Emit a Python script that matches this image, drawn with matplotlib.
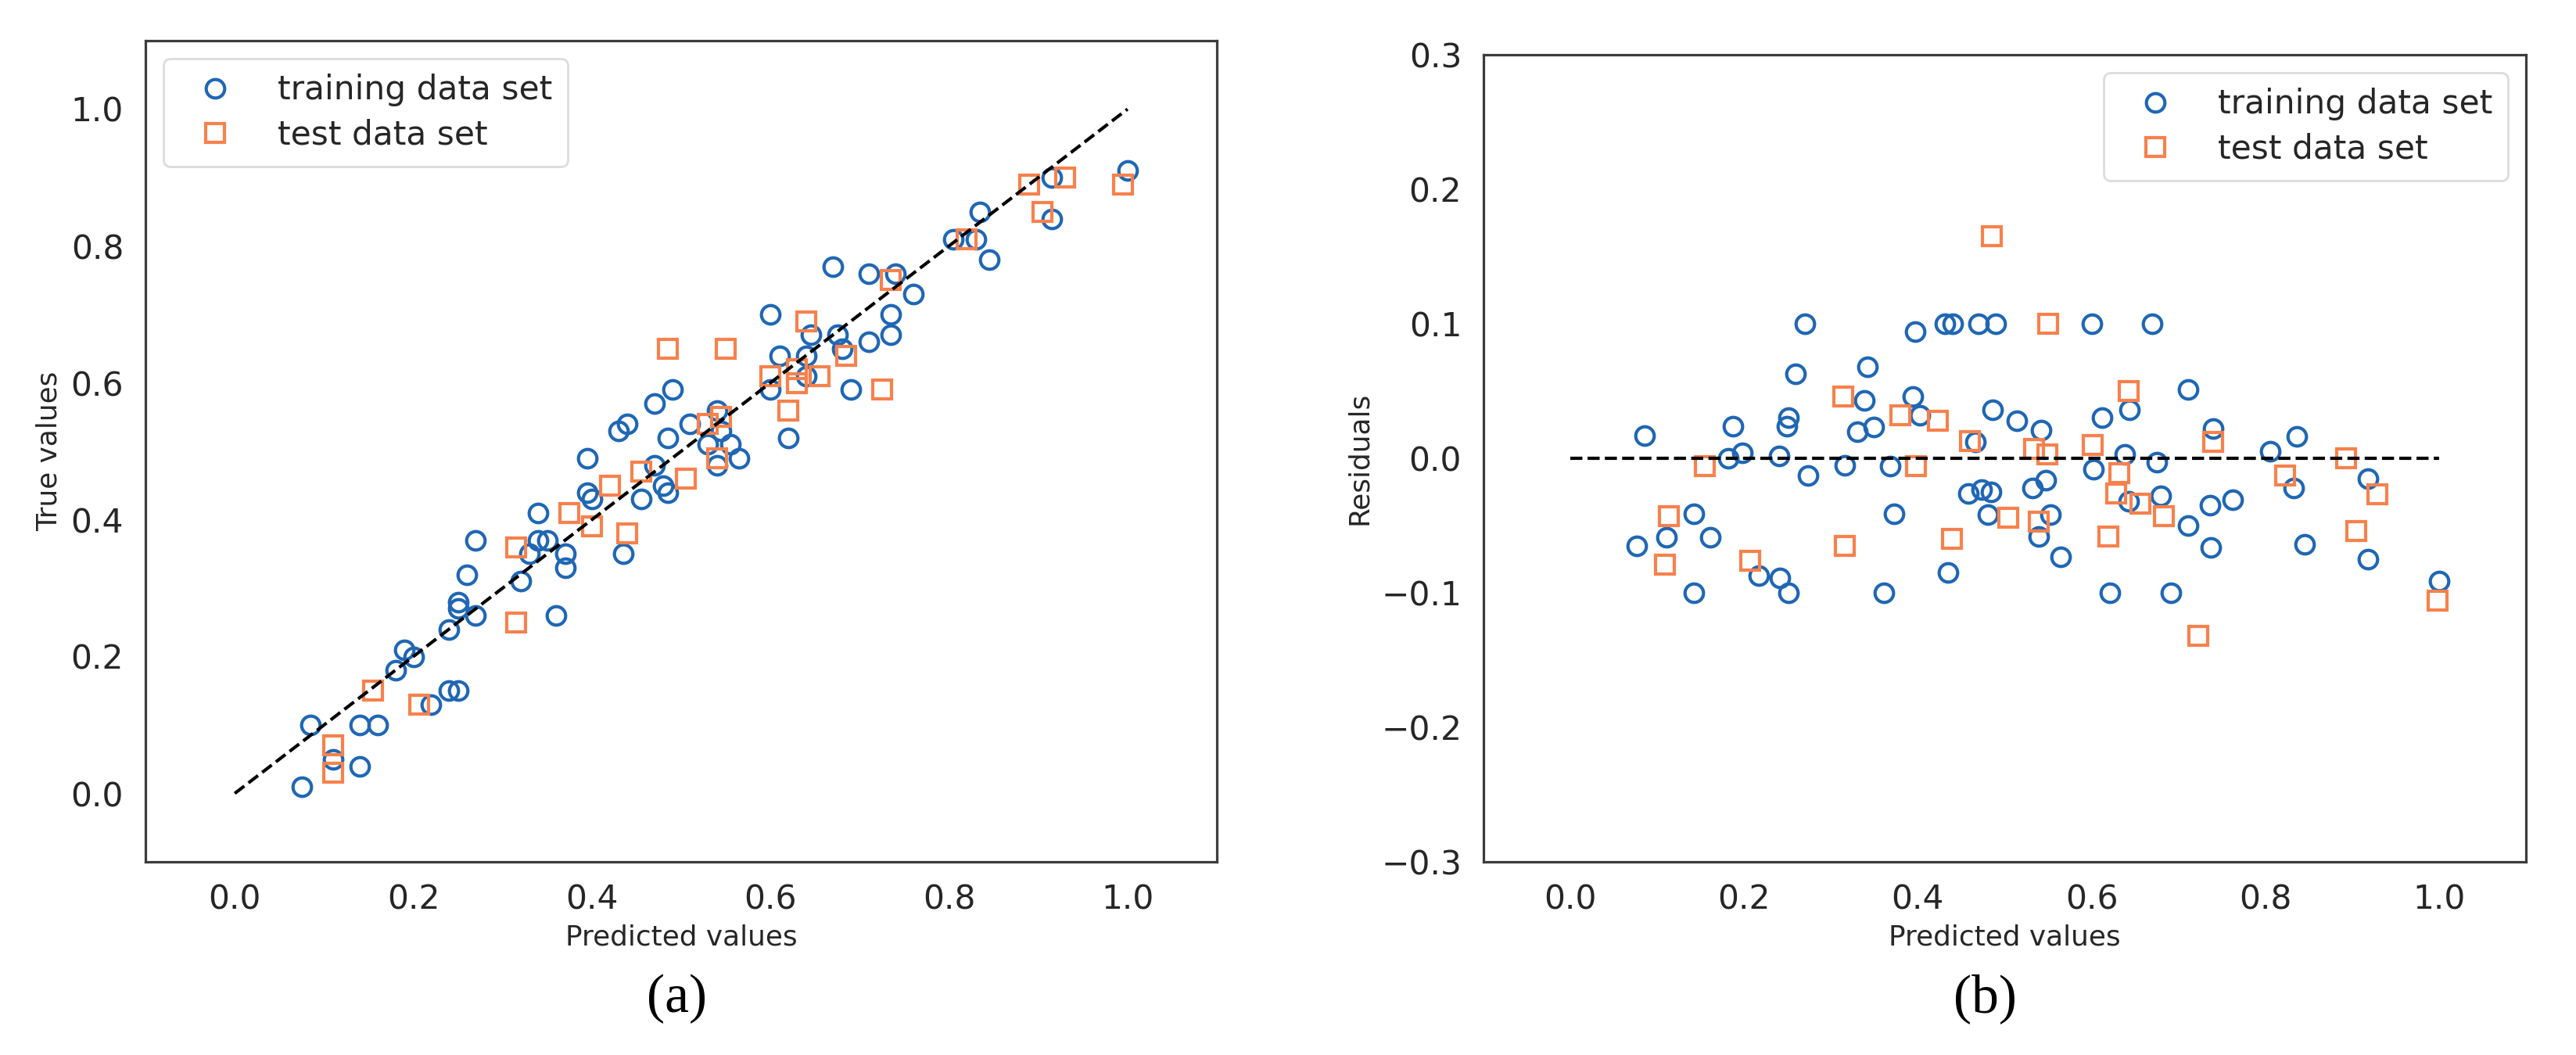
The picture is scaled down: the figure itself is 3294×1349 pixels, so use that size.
import matplotlib
matplotlib.use("Agg")
import matplotlib.pyplot as plt

# ---------------- data ----------------
train_pred = [0.075, 0.085, 0.11, 0.14, 0.14, 0.16, 0.18, 0.19, 0.20, 0.22, 0.24, 0.25,
              0.24, 0.25, 0.25, 0.26, 0.27, 0.27, 0.32, 0.33, 0.34, 0.35, 0.34, 0.36,
              0.37, 0.37, 0.395, 0.40, 0.395, 0.435, 0.43, 0.44, 0.455, 0.47, 0.48, 0.485,
              0.47, 0.485, 0.49, 0.51, 0.53, 0.54, 0.54, 0.545, 0.555, 0.565, 0.60, 0.62,
              0.64, 0.61, 0.64, 0.60, 0.645, 0.675, 0.68, 0.69, 0.67, 0.71, 0.74, 0.76,
              0.735, 0.735, 0.71, 0.805, 0.83, 0.835, 0.845, 0.915, 0.915, 1.0]
train_true = [0.01, 0.10, 0.05, 0.04, 0.10, 0.10, 0.18, 0.21, 0.20, 0.13, 0.15, 0.15,
              0.24, 0.28, 0.27, 0.32, 0.26, 0.37, 0.31, 0.35, 0.37, 0.37, 0.41, 0.26,
              0.35, 0.33, 0.44, 0.43, 0.49, 0.35, 0.53, 0.54, 0.43, 0.48, 0.45, 0.44,
              0.57, 0.52, 0.59, 0.54, 0.51, 0.56, 0.48, 0.53, 0.51, 0.49, 0.59, 0.52,
              0.61, 0.64, 0.64, 0.70, 0.67, 0.67, 0.65, 0.59, 0.77, 0.76, 0.76, 0.73,
              0.70, 0.67, 0.66, 0.81, 0.81, 0.85, 0.78, 0.90, 0.84, 0.91]

test_pred = [0.11, 0.11, 0.155, 0.207, 0.315, 0.315, 0.375, 0.40, 0.42, 0.44, 0.455,
             0.505, 0.485, 0.55, 0.545, 0.53, 0.54, 0.60, 0.63, 0.63, 0.655, 0.62,
             0.685, 0.64, 0.725, 0.735, 0.82, 0.89, 0.93, 0.905, 0.995]
test_true = [0.07, 0.03, 0.15, 0.13, 0.25, 0.36, 0.41, 0.39, 0.45, 0.38, 0.47,
             0.46, 0.65, 0.65, 0.55, 0.54, 0.49, 0.61, 0.60, 0.62, 0.61, 0.56,
             0.64, 0.69, 0.59, 0.75, 0.81, 0.89, 0.90, 0.85, 0.89]

res_train_pred = [0.076, 0.085, 0.111, 0.142, 0.142, 0.161, 0.182, 0.187, 0.198, 0.217,
                  0.241, 0.24, 0.249, 0.251, 0.251, 0.259, 0.27, 0.274, 0.316, 0.33,
                  0.338, 0.342, 0.349, 0.361, 0.368, 0.373, 0.394, 0.397, 0.402, 0.431,
                  0.435, 0.44, 0.458, 0.466, 0.47, 0.473, 0.481, 0.484, 0.486, 0.49,
                  0.514, 0.532, 0.539, 0.542, 0.547, 0.553, 0.564, 0.60, 0.602, 0.612,
                  0.621, 0.638, 0.643, 0.644, 0.67, 0.675, 0.68, 0.691, 0.711, 0.711,
                  0.736, 0.737, 0.74, 0.762, 0.806, 0.833, 0.836, 0.845, 0.918, 0.918, 1.0]
res_train = [-0.065, 0.017, -0.059, -0.041, -0.10, -0.059, 0.0, 0.024, 0.004, -0.087,
             -0.089, 0.002, 0.024, 0.030, -0.10, 0.063, 0.10, -0.013, -0.005, 0.020,
             0.043, 0.068, 0.023, -0.10, -0.006, -0.041, 0.046, 0.094, 0.032, 0.10,
             -0.085, 0.10, -0.026, 0.012, 0.10, -0.023, -0.042, -0.025, 0.036, 0.10,
             0.028, -0.022, -0.058, 0.021, -0.016, -0.042, -0.073, 0.10, -0.008, 0.030,
             -0.10, 0.003, -0.032, 0.036, 0.10, -0.003, -0.028, -0.10, 0.051, -0.050,
             -0.035, -0.066, 0.022, -0.031, 0.005, -0.022, 0.016, -0.064, -0.015, -0.075, -0.091]

res_test_pred = [0.109, 0.113, 0.155, 0.207, 0.314, 0.316, 0.38, 0.398, 0.423, 0.439,
                 0.46, 0.485, 0.504, 0.534, 0.539, 0.549, 0.55, 0.601, 0.619, 0.628,
                 0.632, 0.643, 0.656, 0.683, 0.723, 0.74, 0.823, 0.893, 0.905, 0.929, 0.998]
res_test = [-0.079, -0.043, -0.006, -0.076, 0.046, -0.065, 0.032, -0.006, 0.028, -0.060,
            0.013, 0.165, -0.044, 0.007, -0.047, 0.003, 0.10, 0.010, -0.058, -0.026,
            -0.011, 0.05, -0.034, -0.043, -0.132, 0.012, -0.013, 0.0, -0.054, -0.027, -0.106]

ticks_x = [0.0, 0.2, 0.4, 0.6, 0.8, 1.0]
ticks_y_left = [0.0, 0.2, 0.4, 0.6, 0.8, 1.0]
ticks_y_right = [-0.3, -0.2, -0.1, 0.0, 0.1, 0.2, 0.3]
labels = ["training data set", "test data set"]

# ---------------- style ----------------
BLUE = "#1f67b4"
ORANGE = "#f7814c"
TXT = "#262626"
SPINE = "#3c3c3c"
plt.rcParams["font.family"] = ["DejaVu Sans"]

fig = plt.figure(figsize=(32.94, 13.49), dpi=100)
axL = fig.add_axes([186 / 3294, 247 / 1349, 1370 / 3294, 1050 / 1349])
axR = fig.add_axes([1897 / 3294, 247 / 1349, 1333 / 3294, 1032 / 1349])

mk = dict(linestyle="none", markersize=17.0, markeredgewidth=3.0, markerfacecolor="none")


def style(ax):
    for s in ax.spines.values():
        s.set_color(SPINE)
        s.set_linewidth(2.3)
    ax.tick_params(axis="both", length=0, labelsize=30.5, labelcolor=TXT)
    ax.tick_params(axis="x", pad=20)
    ax.tick_params(axis="y", pad=20)


def legend(ax, loc):
    leg = ax.legend(loc=loc, fontsize=30.5, handlelength=2.2, handletextpad=0.8,
                    borderpad=0.45, labelspacing=0.36, borderaxespad=0.55,
                    frameon=True, fancybox=True, framealpha=1.0)
    leg.get_frame().set_edgecolor("#dcdcdc")
    leg.get_frame().set_linewidth(2.0)
    for t in leg.get_texts():
        t.set_color(TXT)


# (a) true vs predicted
axL.plot(train_pred, train_true, marker="o", markeredgecolor=BLUE, label=labels[0], **mk)
axL.plot(test_pred, test_true, marker="s", markeredgecolor=ORANGE, label=labels[1], **mk)
axL.plot([0, 1], [0, 1], "--", color="black", linewidth=3.0)
axL.set_xlim(-0.1, 1.1)
axL.set_ylim(-0.1, 1.1)
axL.set_xticks(ticks_x)
axL.set_yticks(ticks_y_left)
axL.set_xticklabels([f"{v:.1f}" for v in ticks_x])
axL.set_yticklabels([f"{v:.1f}" for v in ticks_y_left])
axL.set_xlabel("Predicted values", fontsize=25.8, color=TXT, labelpad=7)
axL.set_ylabel("True values", fontsize=25.8, color=TXT, labelpad=8)
style(axL)
legend(axL, "upper left")

# (b) residuals
axR.plot(res_train_pred, res_train, marker="o", markeredgecolor=BLUE, label=labels[0], **mk)
axR.plot(res_test_pred, res_test, marker="s", markeredgecolor=ORANGE, label=labels[1], **mk)
axR.plot([0, 1], [0, 0], "--", color="black", linewidth=3.0)
axR.set_xlim(-0.1, 1.1)
axR.set_ylim(-0.3, 0.3)
axR.set_xticks(ticks_x)
axR.set_yticks(ticks_y_right)
axR.set_xticklabels([f"{v:.1f}" for v in ticks_x])
axR.set_yticklabels([f"{v:.1f}".replace("-", "\u2212") for v in ticks_y_right])
axR.set_xlabel("Predicted values", fontsize=25.8, color=TXT, labelpad=7)
axR.set_ylabel("Residuals", fontsize=25.8, color=TXT, labelpad=8)
style(axR)
legend(axR, "upper right")

# panel captions
fig.text(865 / 3294, 1 - 1277 / 1349, "(a)", ha="center", va="center",
         fontsize=50, family=["Liberation Serif", "DejaVu Serif"], color="black")
fig.text(2538 / 3294, 1 - 1277 / 1349, "(b)", ha="center", va="center",
         fontsize=50, family=["Liberation Serif", "DejaVu Serif"], color="black")

fig.savefig("out.png", dpi=100, facecolor="white")
